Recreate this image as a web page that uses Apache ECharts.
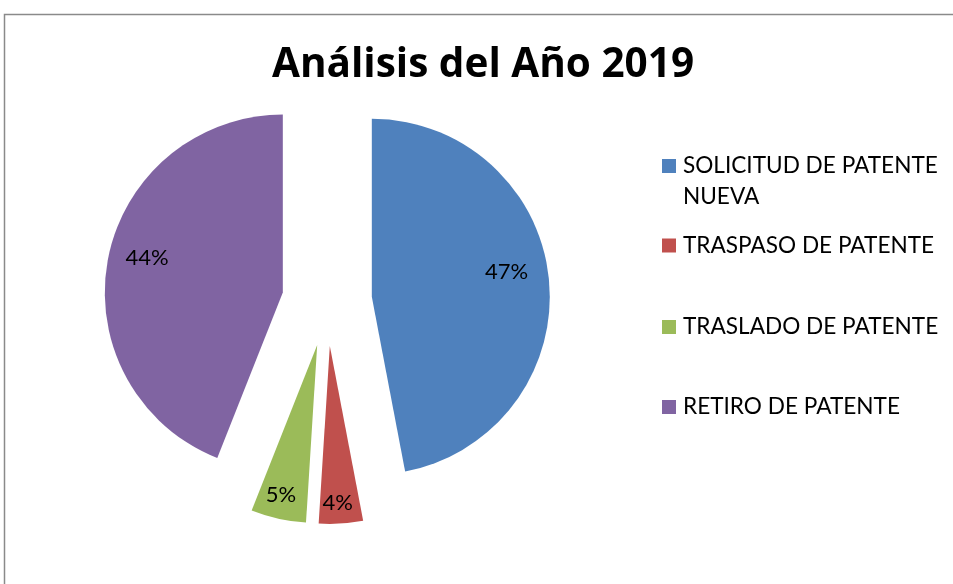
<!DOCTYPE html>
<html>
<head>
<meta charset="utf-8">
<title>Análisis del Año 2019</title>
<script src="https://cdn.jsdelivr.net/npm/echarts@6/dist/echarts.min.js"></script>
<style>
  html, body { margin: 0; padding: 0; background: #ffffff; }
  #chart { width: 953px; height: 584px; }
</style>
</head>
<body>
<div id="chart"></div>
<script>
// Categories and shares (percent) for 2019
const categories = [
  'SOLICITUD DE PATENTE NUEVA',
  'TRASPASO DE PATENTE',
  'TRASLADO DE PATENTE',
  'RETIRO DE PATENTE'
];
const shares = [47, 4, 5, 44];
const colors = ['#4F81BD', '#C0504D', '#9BBB59', '#8064A2'];

// Layout settings
const PIE_CENTER = [327, 301];
const PIE_RADIUS = 178;
const EXPLODE = 45;
const FONT = 'Lato, "Open Sans", sans-serif';
const TITLE_FONT = '"Open Sans", Lato, sans-serif';
// Percentage labels: distance from slice tip and angular nudge (degrees)
const LABEL_DIST = [134, 154, 151, 137];
const LABEL_TURN = [-5, 0.7, 1, 3.5];
// Vertical centre of each legend swatch
const LEGEND_ICON_Y = [166, 245.5, 327, 407];
const LEGEND_LINE = 31;

// Mid-angle of each slice, clockwise from 12 o'clock
const total = shares.reduce((a, b) => a + b, 0);
const midAngles = [];
let acc = 0;
shares.forEach(v => {
  midAngles.push((acc + v / 2) / total * 360);
  acc += v;
});

// One legend block per entry; the wrapped first entry gets a blank lead line
// so that its swatch lines up with the first text line.
const legends = categories.map((name, i) => {
  const first = i === 0;
  const blockH = first ? LEGEND_LINE * 3 : LEGEND_LINE;
  return {
    orient: 'vertical',
    left: 662,
    top: LEGEND_ICON_Y[i] - blockH / 2,
    padding: 0,
    itemWidth: 14,
    itemHeight: 14,
    icon: 'rect',
    data: [name],
    formatter: first ? (n => '\n' + n) : (n => n),
    textStyle: {
      fontFamily: FONT,
      fontSize: 22.6,
      color: '#000000',
      lineHeight: LEGEND_LINE,
      width: 280,
      overflow: 'break',
      padding: [0, 0, 0, 2]
    }
  };
});

const chart = echarts.init(document.getElementById('chart'), null, { renderer: 'canvas' });
chart.setOption({
  animation: false,
  backgroundColor: '#ffffff',
  color: colors,
  title: {
    text: 'Análisis del Año 2019',
    left: 483,
    textAlign: 'center',
    top: 42,
    padding: 0,
    textStyle: {
      fontFamily: TITLE_FONT,
      fontWeight: 'bold',
      fontSize: 40.5,
      lineHeight: 46,
      color: '#000000'
    }
  },
  graphic: [{
    type: 'rect',
    silent: true,
    z: -1,
    shape: { x: 4.5, y: 14.5, width: 1000, height: 1000 },
    style: { fill: 'none', stroke: '#8a8a8a', lineWidth: 1.5 }
  }],
  legend: legends,
  series: [{
    type: 'pie',
    center: PIE_CENTER,
    radius: PIE_RADIUS,
    startAngle: 90,
    clockwise: true,
    selectedMode: 'multiple',
    selectedOffset: EXPLODE,
    avoidLabelOverlap: false,
    emphasis: { scale: false },
    itemStyle: { borderWidth: 0 },
    label: {
      show: true,
      position: 'inside',
      formatter: '{d}%',
      fontFamily: FONT,
      fontSize: 22,
      color: '#000000'
    },
    labelLine: { show: false },
    labelLayout: function (p) {
      const i = p.dataIndex;
      const a = midAngles[i] * Math.PI / 180;
      const b = (midAngles[i] + LABEL_TURN[i]) * Math.PI / 180;
      const r0 = PIE_RADIUS / 2;
      return {
        dx: LABEL_DIST[i] * Math.sin(b) - r0 * Math.sin(a),
        dy: -LABEL_DIST[i] * Math.cos(b) + r0 * Math.cos(a)
      };
    },
    data: categories.map((name, i) => ({ name: name, value: shares[i], selected: true }))
  }]
});
</script>
</body>
</html>
